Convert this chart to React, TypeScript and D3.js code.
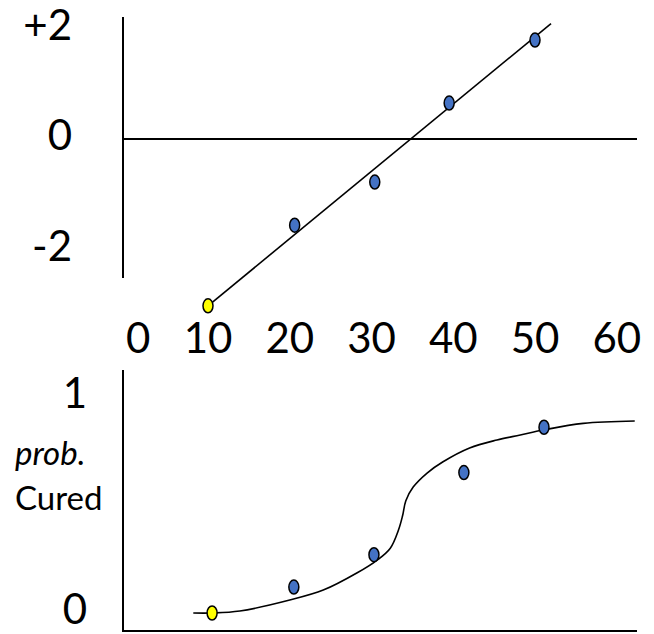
import React from "react";
import * as d3 from "d3";

// ---- data ----
const xTicks = [0, 10, 20, 30, 40, 50, 60];
const topYTicks = [2, 0, -2];
const topYTickLabels = ["+2", "0", "-2"];
const bottomYTicks = [1, 0];
const bottomYTickLabels = ["1", "0"];

// top panel: log-odds points and fitted line
const topPointX = [10, 20.6, 30.4, 39.5, 50.0];
const topPointY = [-3.02, -1.56, -0.78, 0.65, 1.79];
const topPointColor = ["yellow", "blue", "blue", "blue", "blue"];
const topLineX = [10, 51.96];
const topLineY = [-3.02, 2.09];

// bottom panel: probability points and fitted curve
const botPointX = [10.5, 20.5, 30.3, 41.3, 51.1];
const botPointY = [0.0, 0.12, 0.27, 0.65, 0.86];
const botPointColor = ["yellow", "blue", "blue", "blue", "blue"];
const curveX = [8.2, 10.5, 13.9, 20.0, 24.1, 28.2, 30.7, 32.3, 33.3, 33.8, 34.2, 35.1, 36.8, 38.7, 42.0, 45.35, 48.2, 51.0, 55.9, 62.2];
const curveY = [0.0, 0.0, 0.009, 0.06, 0.106, 0.185, 0.245, 0.3, 0.384, 0.45, 0.52, 0.583, 0.648, 0.699, 0.764, 0.801, 0.824, 0.847, 0.878, 0.889];

const FILL: Record<string, string> = { yellow: "#FFFF00", blue: "#4472C4" };
const FONT = "Lato, 'Open Sans', sans-serif";

export default function App() {
  const W = 654;
  const H = 634;
  const x = d3.scaleLinear().domain([0, 60]).range([126.25, 616.75]);
  const yTop = d3.scaleLinear().domain([-2, 2]).range([249.5, 28.5]);
  const yBot = d3.scaleLinear().domain([0, 1]).range([613, 397]);

  const axisX = 123;
  const axisRight = 637;

  const line = d3
    .line<number>()
    .x((_, i) => x(topLineX[i]))
    .y((d) => yTop(d));
  const curve = d3
    .line<number>()
    .x((_, i) => x(curveX[i]))
    .y((d) => yBot(d))
    .curve(d3.curveCatmullRom.alpha(0.5));

  return (
    <div style={{ position: "absolute", left: 0, top: 0 }}>
      <svg width={W} height={H} style={{ display: "block", background: "#fff" }}>
        <rect width={W} height={H} fill="#fff" />
        {/* top panel axes */}
        <line x1={axisX} x2={axisX} y1={17} y2={278} stroke="#000" strokeWidth={2} />
        <line x1={axisX} x2={axisRight} y1={yTop(0)} y2={yTop(0)} stroke="#000" strokeWidth={2} />
        {topYTicks.map((v, i) => (
          <text key={"ty" + i} x={72} y={yTop(v) + 11} textAnchor="end" fontFamily={FONT} fontSize={42} fill="#000">
            {topYTickLabels[i]}
          </text>
        ))}
        <path d={line(topLineY) || ""} fill="none" stroke="#000" strokeWidth={1.6} />
        {topPointX.map((v, i) => (
          <ellipse key={"tp" + i} cx={x(v)} cy={yTop(topPointY[i])} rx={5} ry={7} fill={FILL[topPointColor[i]]} stroke="#000" strokeWidth={1.5} />
        ))}

        {/* x tick labels between panels */}
        {xTicks.map((v) => (
          <text key={"xt" + v} x={x(v) + (v === 0 ? 12 : 0)} y={353} textAnchor="middle" fontFamily={FONT} fontSize={42} fill="#000">
            {v}
          </text>
        ))}

        {/* bottom panel axes */}
        <line x1={axisX} x2={axisX} y1={370} y2={632} stroke="#000" strokeWidth={2} />
        <line x1={axisX - 1} x2={axisRight} y1={631} y2={631} stroke="#000" strokeWidth={2} />
        {bottomYTicks.map((v, i) => (
          <text key={"by" + i} x={75} y={yBot(v) + 11} textAnchor="middle" fontFamily={FONT} fontSize={42} fill="#000">
            {bottomYTickLabels[i]}
          </text>
        ))}
        <text x={15} y={465} fontFamily={FONT} fontStyle="italic" fontSize={33} fill="#000">prob.</text>
        <text x={15} y={510} fontFamily={FONT} fontSize={33} fill="#000">Cured</text>
        <path d={curve(curveY) || ""} fill="none" stroke="#000" strokeWidth={1.6} />
        {botPointX.map((v, i) => (
          <ellipse key={"bp" + i} cx={x(v)} cy={yBot(botPointY[i])} rx={5} ry={7} fill={FILL[botPointColor[i]]} stroke="#000" strokeWidth={1.5} />
        ))}
      </svg>
    </div>
  );
}
